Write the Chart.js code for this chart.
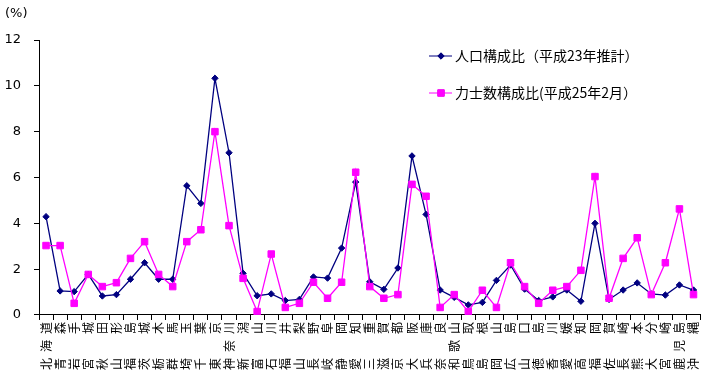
<!DOCTYPE html>
<html>
<head>
<meta charset="utf-8">
<script src="https://cdn.jsdelivr.net/npm/chart.js@4/dist/chart.umd.min.js"></script>
<style>
  html, body { margin: 0; padding: 0; background: #fff; }
  #wrap { width: 710px; height: 386px; }
</style>
</head>
<body>
<div id="wrap"><canvas id="chart"></canvas></div>
<script>
const prefs = ['北海道', '青　森', '岩　手', '宮　城', '秋　田', '山　形', '福　島', '茨　城', '栃　木', '群　馬',
    '埼　玉', '千　葉', '東　京', '神奈川', '新　潟', '富　山', '石　川', '福　井', '山　梨', '長　野',
    '岐　阜', '静　岡', '愛　知', '三　重', '滋　賀', '京　都', '大　阪', '兵　庫', '奈　良', '和歌山',
    '鳥　取', '島　根', '岡　山', '広　島', '山　口', '徳　島', '香　川', '愛　媛', '高　知', '福　岡',
    '佐　賀', '長　崎', '熊　本', '大　分', '宮　崎', '鹿児島', '沖　縄']

const jinko = [4.29, 1.05, 1.02, 1.77, 0.83, 0.89, 1.56, 2.28, 1.56, 1.56,
    5.64, 4.87, 10.33, 7.08, 1.82, 0.84, 0.92, 0.63, 0.68, 1.66,
    1.61, 2.92, 5.80, 1.45, 1.12, 2.05, 6.94, 4.39, 1.09, 0.77,
    0.44, 0.55, 1.51, 2.18, 1.13, 0.63, 0.79, 1.09, 0.60, 4.00,
    0.68, 1.09, 1.40, 0.92, 0.87, 1.31, 1.09]

const rikishi = [3.03, 3.03, 0.51, 1.77, 1.24, 1.41, 2.47, 3.20, 1.77, 1.24,
    3.20, 3.72, 8.00, 3.90, 1.60, 0.15, 2.66, 0.33, 0.51, 1.43,
    0.73, 1.43, 6.23, 1.24, 0.73, 0.89, 5.70, 5.18, 0.33, 0.89,
    0.15, 1.08, 0.33, 2.28, 1.24, 0.51, 1.08, 1.24, 1.95, 6.04,
    0.73, 2.47, 3.37, 0.89, 2.28, 4.63, 0.89]

const yTicks = [0, 2, 4, 6, 8, 10, 12]

const labelFont = '"Noto Sans CJK JP", "DejaVu Sans", sans-serif'

// 凡例と(%)を描く
const extras = {
    id: 'extras',
    afterDraw(chart) {
        const ctx = chart.ctx
        ctx.save()
        ctx.fillStyle = '#000'
        ctx.font = '13px "DejaVu Sans", sans-serif'
        ctx.textBaseline = 'middle'
        ctx.fillText('(%)', 5, 14)

        const rows = [56, 93]
        chart.data.datasets.forEach((ds, i) => {
            const y = rows[i]
            ctx.strokeStyle = ds.borderColor
            ctx.lineWidth = 1
            ctx.beginPath()
            ctx.moveTo(429, y)
            ctx.lineTo(452, y)
            ctx.stroke()
            Chart.helpers.drawPoint(ctx, {
                pointStyle: ds.pointStyle,
                radius: ds.pointRadius,
                rotation: 0,
                borderWidth: 1
            }, 441, y)
            ctx.fillStyle = ds.borderColor
            ctx.fill()
            ctx.fillStyle = '#000'
            ctx.font = '14px ' + labelFont
            ctx.fillText(ds.label, 455, y)
        })
        ctx.restore()
    }
}

new Chart(document.getElementById('chart'), {
    type: 'line',
    data: {
        labels: prefs,
        datasets: [{
            label: '人口構成比（平成23年推計）',
            data: jinko,
            borderColor: '#000080',
            backgroundColor: '#000080',
            borderWidth: 1.3,
            pointStyle: 'rectRot',
            pointRadius: 3.2,
            pointBorderWidth: 1,
            tension: 0,
            order: 1
        }, {
            label: '力士数構成比(平成25年2月）',
            data: rikishi,
            borderColor: '#FF00FF',
            backgroundColor: '#FF00FF',
            borderWidth: 1.3,
            pointStyle: 'rect',
            pointRadius: 4.6,
            pointBorderWidth: 1,
            tension: 0,
            order: 0
        }]
    },
    options: {
        responsive: true,
        maintainAspectRatio: false,
        animation: false,
        layout: { padding: { left: 3, right: 9, top: 40, bottom: 14 } },
        plugins: {
            legend: { display: false },
            tooltip: { enabled: false }
        },
        scales: {
            x: {
                offset: true,
                grid: { display: true, drawOnChartArea: false, drawTicks: true, tickLength: 5, color: '#000', offset: true },
                border: { color: '#000', width: 1 },
                ticks: {
                    autoSkip: false,
                    minRotation: 90,
                    maxRotation: 90,
                    padding: 2,
                    color: '#000',
                    font: { family: labelFont, size: 12 },
                    callback: function (v, i) { return prefs[i].split('').join('\u2002') }
                }
            },
            y: {
                min: 0,
                max: 12,
                afterBuildTicks: s => { s.ticks = yTicks.map(v => ({ value: v })) },
                afterFit: s => { s.width = 36 },
                grid: { display: true, drawOnChartArea: false, drawTicks: true, tickLength: 5, color: '#000' },
                border: { color: '#000', width: 1 },
                ticks: {
                    padding: 13,
                    color: '#000',
                    font: { family: '"DejaVu Sans", sans-serif', size: 13 }
                }
            }
        }
    },
    plugins: [extras]
})
</script>
</body>
</html>
